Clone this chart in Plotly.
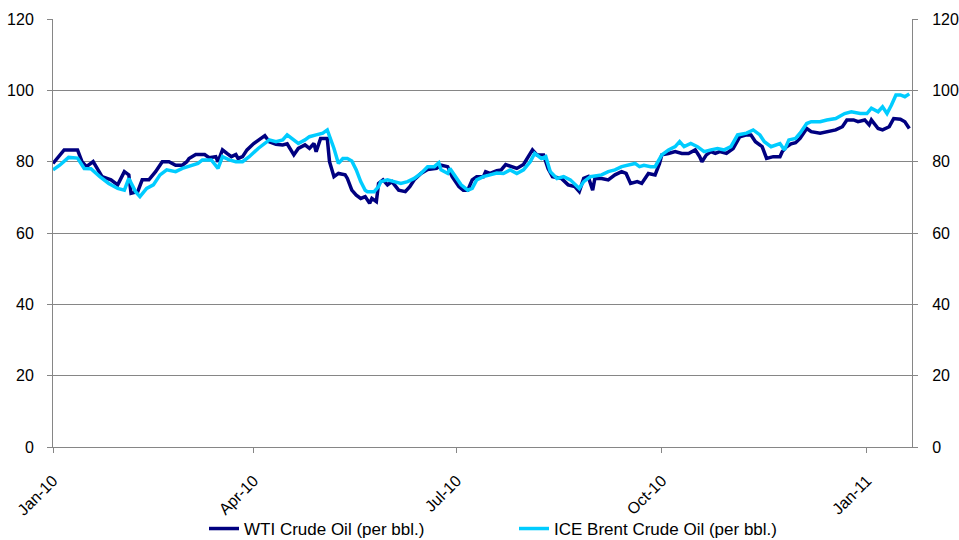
import plotly.graph_objects as go

wti_dates = [
    "2010-01-01", "2010-01-06", "2010-01-12", "2010-01-14", "2010-01-16", "2010-01-19", "2010-01-23",
    "2010-01-27", "2010-01-30", "2010-02-02", "2010-02-04", "2010-02-05", "2010-02-08", "2010-02-10",
    "2010-02-13", "2010-02-16", "2010-02-19", "2010-02-22", "2010-02-25", "2010-02-28", "2010-03-02",
    "2010-03-03", "2010-03-06", "2010-03-10", "2010-03-12", "2010-03-15", "2010-03-16", "2010-03-18",
    "2010-03-20", "2010-03-22", "2010-03-24", "2010-03-25", "2010-03-27", "2010-03-29", "2010-04-01",
    "2010-04-03", "2010-04-06", "2010-04-08", "2010-04-11", "2010-04-14", "2010-04-16", "2010-04-19",
    "2010-04-21", "2010-04-24", "2010-04-26", "2010-04-28", "2010-04-29", "2010-05-01", "2010-05-04",
    "2010-05-05", "2010-05-07", "2010-05-09", "2010-05-12", "2010-05-13", "2010-05-15", "2010-05-17",
    "2010-05-19", "2010-05-21", "2010-05-23", "2010-05-24", "2010-05-26", "2010-05-27", "2010-05-29",
    "2010-05-31", "2010-06-02", "2010-06-05", "2010-06-08", "2010-06-10", "2010-06-12", "2010-06-15",
    "2010-06-18", "2010-06-22", "2010-06-24", "2010-06-27", "2010-06-29", "2010-07-02", "2010-07-04",
    "2010-07-06", "2010-07-08", "2010-07-10", "2010-07-13", "2010-07-14", "2010-07-16", "2010-07-19",
    "2010-07-21", "2010-07-23", "2010-07-26", "2010-07-28", "2010-07-31", "2010-08-02", "2010-08-04",
    "2010-08-06", "2010-08-09", "2010-08-11", "2010-08-13", "2010-08-17", "2010-08-20", "2010-08-23",
    "2010-08-25", "2010-08-27", "2010-08-29", "2010-08-31", "2010-09-01", "2010-09-04", "2010-09-07",
    "2010-09-10", "2010-09-13", "2010-09-15", "2010-09-17", "2010-09-20", "2010-09-22", "2010-09-25",
    "2010-09-27", "2010-09-28", "2010-09-30", "2010-10-01", "2010-10-04", "2010-10-07", "2010-10-10",
    "2010-10-13", "2010-10-16", "2010-10-18", "2010-10-19", "2010-10-21", "2010-10-23", "2010-10-25",
    "2010-10-27", "2010-10-30", "2010-11-02", "2010-11-05", "2010-11-08", "2010-11-10", "2010-11-12",
    "2010-11-15", "2010-11-17", "2010-11-20", "2010-11-23", "2010-11-24", "2010-11-26", "2010-11-28",
    "2010-11-30", "2010-12-02", "2010-12-05", "2010-12-07", "2010-12-11", "2010-12-15", "2010-12-18",
    "2010-12-21", "2010-12-23", "2010-12-26", "2010-12-28", "2010-12-31", "2011-01-02", "2011-01-03",
    "2011-01-06", "2011-01-08", "2011-01-11", "2011-01-13", "2011-01-16", "2011-01-18", "2011-01-20",
]
wti_values = [
    79.5, 83.3, 83.3, 80.0, 78.6, 80.0, 75.8,
    74.9, 73.5, 77.2, 76.3, 71.1, 71.6, 74.9,
    74.9, 77.2, 80.0, 80.0, 79.0, 79.0, 80.0,
    80.9, 82.0, 82.0, 81.1, 81.4, 80.0, 83.3,
    82.3, 81.4, 82.0, 80.9, 81.4, 83.3, 85.1,
    86.1, 87.3, 85.6, 84.9, 84.7, 85.0, 81.9,
    83.7, 84.7, 83.7, 85.1, 82.8, 86.5, 86.5,
    80.0, 75.8, 76.7, 76.3, 75.3, 72.0, 70.6,
    69.7, 70.2, 68.3, 69.7, 68.8, 73.9, 74.9,
    73.5, 74.4, 72.0, 71.6, 73.0, 74.9, 76.7,
    77.8, 78.1, 79.0, 78.6, 75.8, 73.0, 72.0,
    72.0, 74.9, 75.8, 75.8, 77.2, 76.7, 77.5,
    77.7, 79.2, 78.6, 78.1, 79.2, 81.4, 83.3,
    81.9, 81.9, 78.1, 75.8, 75.3, 73.5, 73.0,
    71.6, 75.3, 75.8, 72.0, 75.3, 75.3, 74.9,
    76.3, 77.2, 76.7, 73.9, 74.4, 73.9, 76.7,
    76.5, 76.3, 79.5, 81.9, 82.3, 82.8, 82.3,
    82.3, 83.3, 81.4, 80.0, 81.9, 82.8, 82.3,
    82.8, 82.3, 83.7, 87.0, 87.5, 87.5, 85.6,
    84.2, 80.9, 81.4, 81.4, 82.8, 84.2, 85.0,
    85.3, 86.5, 89.3, 88.4, 88.0, 88.4, 88.9,
    89.8, 91.7, 91.7, 91.2, 91.7, 90.3, 91.7,
    89.3, 88.9, 89.8, 92.1, 91.9, 91.2, 89.3,
]

brent_dates = [
    "2010-01-01", "2010-01-04", "2010-01-08", "2010-01-12", "2010-01-15", "2010-01-18", "2010-01-22",
    "2010-01-26", "2010-01-30", "2010-02-02", "2010-02-04", "2010-02-07", "2010-02-09", "2010-02-12",
    "2010-02-15", "2010-02-18", "2010-02-21", "2010-02-25", "2010-02-28", "2010-03-03", "2010-03-07",
    "2010-03-09", "2010-03-13", "2010-03-16", "2010-03-18", "2010-03-21", "2010-03-24", "2010-03-27",
    "2010-03-30", "2010-04-03", "2010-04-06", "2010-04-08", "2010-04-11", "2010-04-14", "2010-04-16",
    "2010-04-19", "2010-04-21", "2010-04-24", "2010-04-26", "2010-04-29", "2010-05-02", "2010-05-04",
    "2010-05-07", "2010-05-09", "2010-05-11", "2010-05-13", "2010-05-15", "2010-05-17", "2010-05-19",
    "2010-05-21", "2010-05-22", "2010-05-25", "2010-05-27", "2010-05-28", "2010-05-31", "2010-06-03",
    "2010-06-06", "2010-06-09", "2010-06-12", "2010-06-15", "2010-06-18", "2010-06-21", "2010-06-23",
    "2010-06-24", "2010-06-27", "2010-06-28", "2010-07-01", "2010-07-03", "2010-07-06", "2010-07-08",
    "2010-07-10", "2010-07-13", "2010-07-16", "2010-07-19", "2010-07-22", "2010-07-25", "2010-07-28",
    "2010-07-31", "2010-08-03", "2010-08-05", "2010-08-08", "2010-08-10", "2010-08-12", "2010-08-15",
    "2010-08-18", "2010-08-21", "2010-08-25", "2010-08-27", "2010-08-30", "2010-09-04", "2010-09-07",
    "2010-09-10", "2010-09-13", "2010-09-16", "2010-09-19", "2010-09-21", "2010-09-23", "2010-09-26",
    "2010-09-28", "2010-10-01", "2010-10-04", "2010-10-07", "2010-10-09", "2010-10-11", "2010-10-14",
    "2010-10-17", "2010-10-20", "2010-10-23", "2010-10-26", "2010-10-29", "2010-11-01", "2010-11-04",
    "2010-11-08", "2010-11-11", "2010-11-14", "2010-11-16", "2010-11-19", "2010-11-23", "2010-11-25",
    "2010-11-27", "2010-11-30", "2010-12-02", "2010-12-05", "2010-12-07", "2010-12-11", "2010-12-14",
    "2010-12-18", "2010-12-22", "2010-12-25", "2010-12-29", "2011-01-01", "2011-01-03", "2011-01-06",
    "2011-01-08", "2011-01-10", "2011-01-12", "2011-01-14", "2011-01-16", "2011-01-18", "2011-01-20",
]
brent_values = [
    77.7, 79.0, 81.2, 81.0, 78.1, 78.0, 75.8,
    73.9, 72.5, 72.0, 75.3, 71.6, 70.2, 72.5,
    73.5, 76.3, 77.7, 77.2, 78.1, 78.6, 79.5,
    80.5, 80.5, 78.1, 81.4, 80.5, 80.0, 80.0,
    81.4, 83.7, 85.1, 86.1, 85.6, 86.1, 87.5,
    86.1, 85.1, 86.1, 87.0, 87.5, 88.0, 88.9,
    83.7, 79.5, 80.9, 80.9, 80.2, 77.7, 74.4,
    72.0, 71.6, 71.6, 73.0, 74.4, 74.9, 74.4,
    73.9, 74.4, 75.3, 76.7, 78.6, 78.6, 79.7,
    77.7, 76.7, 78.1, 75.3, 73.5, 72.0, 72.5,
    74.9, 75.8, 76.3, 76.8, 76.7, 77.7, 76.7,
    77.7, 80.0, 82.3, 80.9, 81.4, 77.2, 75.3,
    75.8, 74.9, 72.5, 74.4, 75.8, 76.3, 77.2,
    77.7, 78.6, 79.0, 79.5, 78.6, 79.0, 78.6,
    78.6, 81.9, 83.3, 84.2, 85.6, 84.2, 85.1,
    84.2, 82.8, 83.3, 83.7, 83.3, 84.2, 87.5,
    88.0, 88.9, 87.5, 85.6, 84.2, 85.1, 83.3,
    86.1, 86.5, 88.0, 90.7, 91.2, 91.2, 91.7,
    92.1, 93.5, 94.0, 93.5, 93.5, 95.0, 94.0,
    95.4, 93.5, 95.9, 98.7, 98.7, 98.2, 99.0,
]

series_names = ["WTI Crude Oil (per bbl.)", "ICE Brent Crude Oil (per bbl.)"]
series_colors = ["#000080", "#00CCFF"]
y_ticks = [0, 20, 40, 60, 80, 100, 120]

font_family = "Liberation Sans, Arial, sans-serif"
axis_color = "#868686"

fig = go.Figure()
fig.add_trace(go.Scatter(
    x=wti_dates, y=wti_values, mode="lines", name=series_names[0],
    line=dict(color=series_colors[0], width=3.5), yaxis="y", legend="legend",
))
fig.add_trace(go.Scatter(
    x=brent_dates, y=brent_values, mode="lines", name=series_names[1],
    line=dict(color=series_colors[1], width=3.5), yaxis="y2", legend="legend2",
))

legend_common = dict(
    orientation="h", xref="container", yref="container", xanchor="left",
    y=0.0204, yanchor="middle", font=dict(size=17, color="#000000"),
    bgcolor="rgba(0,0,0,0)", borderwidth=0,
)

fig.update_layout(
    width=959, height=540,
    margin=dict(l=53, r=47, t=19, b=93, autoexpand=False),
    paper_bgcolor="white", plot_bgcolor="white",
    font=dict(family=font_family, size=16, color="#000000"),
    showlegend=True,
    legend=dict(x=204 / 959, **legend_common),
    legend2=dict(x=514 / 959, **legend_common),
    xaxis=dict(
        type="date", range=["2010-01-01", "2011-01-21 05:00"],
        tick0="2010-01-01", dtick="M3", tickformat="%b-%y", tickangle=-45,
        showgrid=False, showline=True, linecolor=axis_color, linewidth=1,
        ticks="outside", ticklen=5, tickcolor=axis_color, zeroline=False,
        tickfont=dict(size=16), ticklabelstandoff=12, automargin=False,
    ),
    yaxis=dict(
        range=[0, 120], tickvals=y_ticks, showgrid=True, gridcolor=axis_color, gridwidth=1,
        showline=True, linecolor=axis_color, linewidth=1, ticks="outside", ticklen=5,
        tickcolor=axis_color, zeroline=False, tickfont=dict(size=16), ticklabelstandoff=10,
        automargin=False,
    ),
    yaxis2=dict(
        range=[0, 120], tickvals=y_ticks, overlaying="y", side="right", showgrid=False,
        showline=True, linecolor=axis_color, linewidth=1, ticks="outside", ticklen=5,
        tickcolor=axis_color, zeroline=False, tickfont=dict(size=16), ticklabelstandoff=11,
        automargin=False,
    ),
)

fig.write_html(
    "out.html",
    config={"displayModeBar": False},
    post_script="document.body.style.margin='0';document.body.style.overflow='hidden';",
)
